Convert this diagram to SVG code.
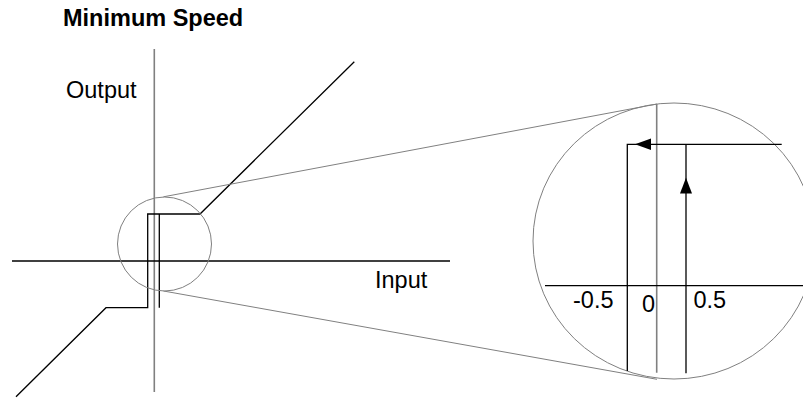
<svg xmlns="http://www.w3.org/2000/svg" width="803" height="398" viewBox="0 0 803 398">
<style>
.t{font-family:"Liberation Sans",Arial,sans-serif;font-size:23.5px;fill:#000}
.b{font-weight:bold}
.g{stroke:#808080;stroke-width:1;fill:none}
.ga{stroke:#808080;stroke-width:1.6;fill:none}
.k{stroke:#000;stroke-width:1.3;fill:none}
</style>
<rect width="803" height="398" fill="#fff"/>
<text class="t b" x="63" y="26">Minimum Speed</text>
<g id="axes">
<line class="ga" x1="154.3" y1="49" x2="154.3" y2="392"/>
<line class="k" x1="12" y1="261" x2="450" y2="261"/>
<text class="t" x="66" y="97.7">Output</text>
<text class="t" x="375" y="288.3">Input</text>
</g>
<g id="curve">
<polyline class="k" points="354.3,61.7 200,214 147.7,214 147.7,307.7 106,307.7 16,396.7"/>
<polyline class="k" points="159.3,214 159.3,307.7"/>
</g>
<g id="small-circle">
<circle class="g" cx="164.5" cy="244" r="47"/>
</g>
<g id="connectors">
<line class="g" x1="163.5" y1="196.8" x2="657" y2="104"/>
<line class="g" x1="163.5" y1="291" x2="657" y2="379.3"/>
</g>
<g id="zoom">
<ellipse class="g" cx="674" cy="241" rx="141" ry="138"/>
<line class="ga" x1="656.7" y1="104" x2="656.7" y2="372.7"/>
<line class="k" x1="545" y1="285.7" x2="803" y2="285.7"/>
<polyline class="k" points="627.3,371 627.3,144.3 781.7,144.3"/>
<line class="k" x1="686" y1="144.3" x2="686" y2="373.3"/>
<polygon points="635,144.3 651,138.5 651,150" fill="#000"/>
<polygon points="686,177.7 680,193.5 692,193.5" fill="#000"/>
<text class="t" x="573" y="308">-0.5</text>
<text class="t" x="642" y="312">0</text>
<text class="t" x="693.5" y="308">0.5</text>
</g>
</svg>
